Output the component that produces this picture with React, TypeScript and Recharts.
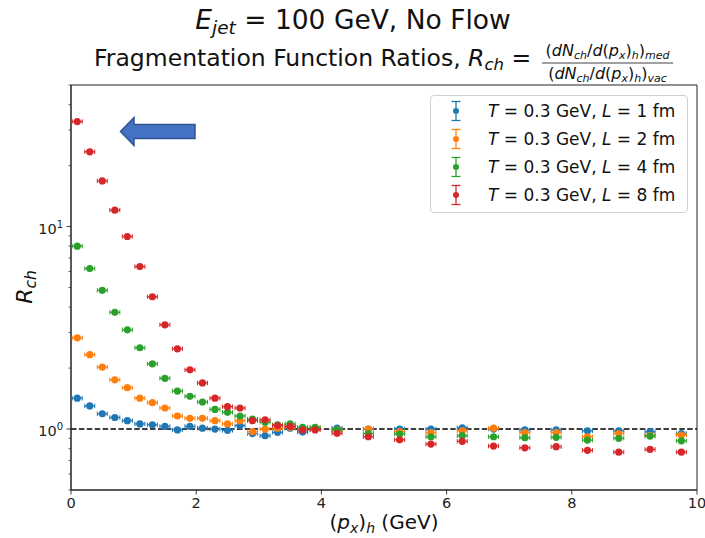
import React from 'react';
import {
  ScatterChart,
  Scatter,
  XAxis,
  YAxis,
  ReferenceLine,
  ReferenceArea,
  Legend,
  Label,
} from 'recharts';

// bin centres: 0.2 GeV bins up to 4, then 0.5 GeV bins
const pxBins = [
  0.1, 0.3, 0.5, 0.7, 0.9, 1.1, 1.3, 1.5, 1.7, 1.9,
  2.1, 2.3, 2.5, 2.7, 2.9, 3.1, 3.3, 3.5, 3.7, 3.9,
  4.25, 4.75, 5.25, 5.75, 6.25, 6.75, 7.25, 7.75, 8.25, 8.75, 9.25, 9.75,
];

const rL1 = [
  1.42, 1.3, 1.19, 1.14, 1.1, 1.06, 1.05, 1.03, 0.99, 1.03,
  1.01, 1.0, 0.985, 1.04, 0.95, 0.927, 0.963, 1.01, 0.966, 1.0,
  1.01, 1.0, 1.0, 1.0, 1.015, 1.0, 0.99, 0.99, 0.98, 0.98, 0.97, 0.95,
];
const rL2 = [
  2.82, 2.33, 2.02, 1.75, 1.6, 1.42, 1.35, 1.27, 1.16, 1.13,
  1.13, 1.1, 1.06, 1.1, 0.97, 1.0, 1.01, 1.02, 1.0, 1.01,
  0.99, 1.0, 0.97, 0.96, 0.98, 1.01, 0.96, 0.96, 0.916, 0.95, 0.93, 0.934,
];
const rL4 = [
  8.0, 6.2, 4.84, 3.77, 3.09, 2.52, 2.1, 1.78, 1.54, 1.45,
  1.36, 1.25, 1.21, 1.16, 1.12, 1.08, 1.05, 1.06, 1.02, 1.02,
  0.99, 0.95, 0.945, 0.916, 0.927, 0.916, 0.906, 0.91, 0.882, 0.9, 0.923, 0.875,
];
const rL8 = [
  33.0, 23.4, 16.8, 12.05, 8.93, 6.34, 4.5, 3.27, 2.49, 1.96,
  1.69, 1.42, 1.29, 1.27, 1.1, 1.11, 1.04, 1.03, 0.99, 0.99,
  0.952, 0.916, 0.885, 0.843, 0.87, 0.824, 0.808, 0.818, 0.785, 0.769, 0.793, 0.769,
];

const seriesNames = ['1', '2', '4', '8'];
const COLORS = ['#1f77b4', '#ff7f0e', '#2ca02c', '#d62728'];

const xTicks = [0, 2, 4, 6, 8, 10];
const yTicks = [
  0.5, 0.6, 0.7, 0.8, 0.9, 1, 2, 3, 4, 5, 6, 7, 8, 9, 10, 20, 30, 40, 50,
];

const FONT = '"DejaVu Sans", sans-serif';
const AXIS = '#222';

const toPoints = (vals: number[]) => pxBins.map((x, i) => ({ x, y: vals[i] }));
const allSeries = [rL1, rL2, rL4, rL8].map(toPoints);

// marker with small horizontal error bar, like matplotlib errorbar
const ErrMarker = (color: string) => (props: any) => {
  const { cx, cy } = props;
  if (cx == null || cy == null) return <g />;
  return (
    <g>
      <line x1={cx - 5} x2={cx + 5} y1={cy} y2={cy} stroke={color} strokeWidth={1.3} />
      <line x1={cx - 5} x2={cx - 5} y1={cy - 2.2} y2={cy + 2.2} stroke={color} strokeWidth={1} />
      <line x1={cx + 5} x2={cx + 5} y1={cy - 2.2} y2={cy + 2.2} stroke={color} strokeWidth={1} />
      <circle cx={cx} cy={cy} r={3.6} fill={color} />
    </g>
  );
};

const XTick = (props: any) => {
  const { x, y, payload } = props;
  return (
    <g>
      <line x1={x} x2={x} y1={y} y2={y + 4.5} stroke={AXIS} strokeWidth={0.9} />
      <text x={x} y={y + 18} textAnchor="middle" fontSize={14.5} fill="#222" fontFamily={FONT}>
        {payload.value}
      </text>
    </g>
  );
};

const YTick = (props: any) => {
  const { x, y, payload } = props;
  const v = payload.value;
  const major = v === 1 || v === 10;
  return (
    <g>
      <line x1={x} x2={x - (major ? 4.5 : 2.5)} y1={y} y2={y} stroke={AXIS} strokeWidth={major ? 0.9 : 0.7} />
      {major && (
        <text x={x - 8} y={y + 7} textAnchor="end" fontSize={14.5} fill="#222" fontFamily={FONT}>
          10
          <tspan fontSize={10} dy={-6}>{v === 1 ? '0' : '1'}</tspan>
        </text>
      )}
    </g>
  );
};

const LegendBox = () => (
  <div
    style={{
      width: 258,
      height: 118,
      boxSizing: 'border-box',
      border: '1px solid #d0d0d0',
      borderRadius: 4,
      background: 'rgba(255,255,255,0.8)',
      position: 'relative',
      fontFamily: FONT,
      fontSize: 17,
      color: '#111',
    }}
  >
    {seriesNames.map((L, i) => (
      <div key={L} style={{ position: 'absolute', left: 0, top: 1 + i * 28, height: 28, width: 256 }}>
        <svg width={20} height={28} style={{ position: 'absolute', left: 15, top: 0 }}>
          <line x1={10} x2={10} y1={4.5} y2={23.5} stroke={COLORS[i]} strokeWidth={1.3} />
          <line x1={5.5} x2={14.5} y1={4.5} y2={4.5} stroke={COLORS[i]} strokeWidth={1.3} />
          <line x1={5.5} x2={14.5} y1={23.5} y2={23.5} stroke={COLORS[i]} strokeWidth={1.3} />
          <circle cx={10} cy={14} r={3} fill={COLORS[i]} />
        </svg>
        <div style={{ position: 'absolute', left: 57, top: 0, lineHeight: '28px', whiteSpace: 'nowrap' }}>
          <i>T</i> = 0.3 GeV, <i>L</i> = {L} fm
        </div>
      </div>
    ))}
  </div>
);

const FracLine = ({ y, tag }: { y: number; tag: string }) => (
  <text x={607.5} y={y} textAnchor="middle" fontSize={16} fill="#111">
    (<tspan fontStyle="italic">dN</tspan>
    <tspan fontStyle="italic" fontSize={11} dy={3}>ch</tspan>
    <tspan dy={-3}>/</tspan>
    <tspan fontStyle="italic">d</tspan>(<tspan fontStyle="italic">p</tspan>
    <tspan fontStyle="italic" fontSize={11} dy={3}>x</tspan>
    <tspan dy={-3}>)</tspan>
    <tspan fontStyle="italic" fontSize={11} dy={3}>h</tspan>
    <tspan dy={-3}>)</tspan>
    <tspan fontStyle="italic" fontSize={11} dy={3}>{tag}</tspan>
  </text>
);

export default function App() {
  return (
    <div style={{ position: 'absolute', left: 0, top: 0, width: 705, height: 538, background: '#fff', fontFamily: FONT }}>
      <ScatterChart width={705} height={538} margin={{ top: 85, right: 8, bottom: 0, left: 0 }}>
        <XAxis
          type="number"
          dataKey="x"
          domain={[0, 10]}
          ticks={xTicks}
          interval={0}
          allowDataOverflow
          height={48}
          tickLine={false}
          tickSize={0}
          tickMargin={0}
          tick={XTick}
          axisLine={{ stroke: AXIS }}
        >
          <Label
            content={() => (
              <text x={384} y={529} textAnchor="middle" fontSize={20} fill="#111" fontFamily={FONT}>
                (<tspan fontStyle="italic">p</tspan>
                <tspan fontStyle="italic" fontSize={14} dy={4}>x</tspan>
                <tspan dy={-4}>)</tspan>
                <tspan fontStyle="italic" fontSize={14} dy={4}>h</tspan>
                <tspan dy={-4}> (GeV)</tspan>
              </text>
            )}
          />
        </XAxis>
        <YAxis
          type="number"
          dataKey="y"
          scale="log"
          domain={[0.5, 50]}
          ticks={yTicks}
          interval={0}
          allowDataOverflow
          width={71}
          tickLine={false}
          tickSize={0}
          tickMargin={0}
          tick={YTick}
          axisLine={{ stroke: AXIS }}
        >
          <Label
            content={() => (
              <text transform="translate(32,287) rotate(-90)" textAnchor="middle" fontSize={22} fill="#111" fontFamily={FONT}>
                <tspan fontStyle="italic">R</tspan>
                <tspan fontStyle="italic" fontSize={15.5} dy={4}>ch</tspan>
              </text>
            )}
          />
        </YAxis>
        <ReferenceArea x1={0} x2={10} y1={0.5} y2={50} fill="none" stroke={AXIS} strokeWidth={1} ifOverflow="visible" />
        <ReferenceLine y={1} stroke="#000" strokeWidth={1.5} strokeDasharray="5.5 2.4" />
        {allSeries.map((pts, i) => (
          <Scatter
            key={seriesNames[i]}
            name={`L = ${seriesNames[i]} fm`}
            data={pts}
            fill={COLORS[i]}
            shape={ErrMarker(COLORS[i])}
            isAnimationActive={false}
          />
        ))}
        <Legend
          layout="vertical"
          align="center"
          verticalAlign="middle"
          wrapperStyle={{ left: 430, top: 95, width: 258, height: 118 }}
          content={() => <LegendBox />}
        />
      </ScatterChart>

      <svg
        width={705}
        height={538}
        style={{ position: 'absolute', left: 0, top: 0, pointerEvents: 'none' }}
        fontFamily={FONT}
      >
        <text x={353} y={29} textAnchor="middle" fontSize={26.5} fill="#111">
          <tspan fontStyle="italic">E</tspan>
          <tspan fontStyle="italic" fontSize={18.5} dy={5}>jet</tspan>
          <tspan dy={-5}> = 100 GeV, No Flow</tspan>
        </text>
        <text x={94} y={66} fontSize={23.5} fill="#111">
          Fragmentation Function Ratios,{' '}
          <tspan fontStyle="italic">R</tspan>
          <tspan fontStyle="italic" fontSize={16.5} dy={4}>ch</tspan>
          <tspan dy={-4}> =</tspan>
        </text>
        <FracLine y={56} tag="med" />
        <line x1={542} x2={673} y1={63} y2={63} stroke="#111" strokeWidth={0.8} />
        <FracLine y={79} tag="vac" />
        {/* block arrow pointing at the L = 8 fm low-pT enhancement */}
        <polygon
          points="120.5,131.5 134,117.5 134,124.5 195,124.5 195,138.5 134,138.5 134,145.5"
          fill="#4472C4"
          stroke="#2F5597"
          strokeWidth={1.5}
          strokeLinejoin="miter"
        />
      </svg>
    </div>
  );
}
